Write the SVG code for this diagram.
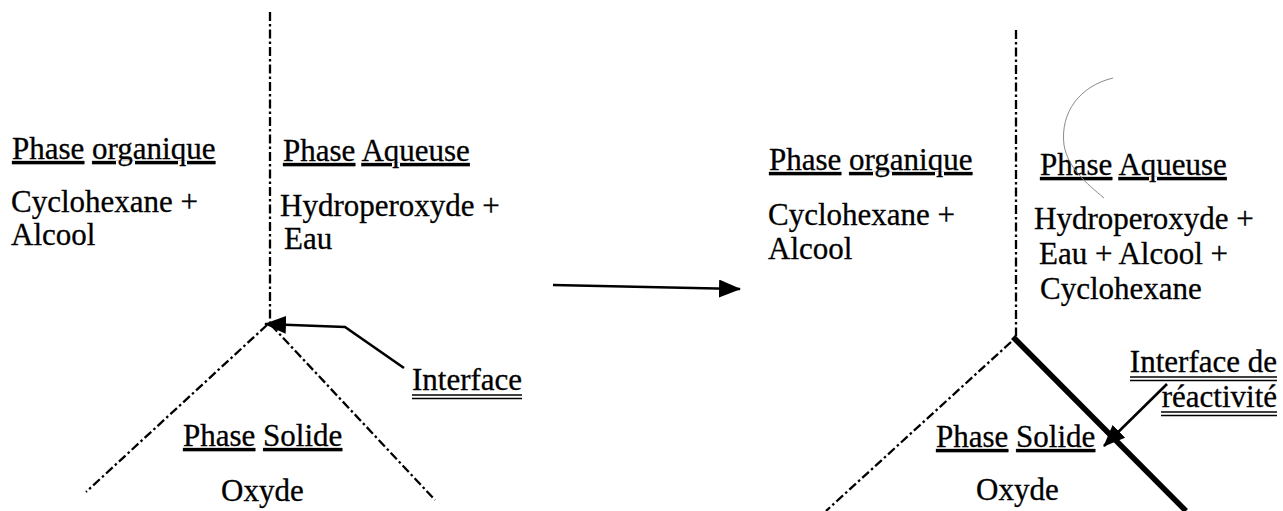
<svg xmlns="http://www.w3.org/2000/svg" width="1283" height="511" viewBox="0 0 1283 511">
  <style>
    text { font-family: "Liberation Serif", "Times New Roman", serif; font-size: 31px; fill: #000; stroke: #000; stroke-width: 0.3; }
    .u { text-decoration: underline; }
    .boundary { fill: none; stroke: #000; stroke-width: 2.3; stroke-dasharray: 9 3 2.5 3; }
    .solid-edge { fill: none; stroke: #000; stroke-width: 5.5; stroke-linecap: butt; }
    .pointer { fill: none; stroke: #000; stroke-width: 2.6; marker-end: url(#head); }
    .rule { stroke: #000; stroke-width: 1.4; }
    .pencil { fill: none; stroke: #8a8a8a; stroke-width: 1; }
  </style>
  <defs>
    <marker id="head" viewBox="0 0 22 18" refX="21" refY="9" markerWidth="22" markerHeight="18" orient="auto" markerUnits="userSpaceOnUse">
      <path d="M0,0 L22,9 L0,18 Z" fill="#000"/>
    </marker>
  </defs>
  <rect width="1283" height="511" fill="#fff"/>

  <!-- Before: phase boundaries meeting at a triple point -->
  <g id="boundaries-before">
    <line class="boundary" x1="270" y1="12" x2="270" y2="323"/>
    <line class="boundary" x1="267" y1="325" x2="86" y2="492"/>
    <line class="boundary" x1="271" y1="325" x2="435" y2="500"/>
  </g>

  <g id="organic-before">
    <text x="12" y="159"><tspan class="u">Phase</tspan> <tspan class="u">organique</tspan></text>
    <text x="11" y="212">Cyclohexane +</text>
    <text x="11" y="245">Alcool</text>
  </g>

  <g id="aqueous-before">
    <text x="283" y="161"><tspan class="u">Phase</tspan> <tspan class="u">Aqueuse</tspan></text>
    <text x="280" y="216">Hydroperoxyde +</text>
    <text x="284" y="249">Eau</text>
  </g>

  <g id="solid-before">
    <text x="183" y="446"><tspan class="u">Phase</tspan> <tspan class="u">Solide</tspan></text>
    <text x="221" y="501">Oxyde</text>
  </g>

  <g id="interface-before">
    <text x="412" y="390">Interface</text>
    <line class="rule" x1="412" y1="395" x2="522" y2="395"/>
    <line class="rule" x1="412" y1="398.5" x2="522" y2="398.5"/>
  </g>

  <!-- After: the aqueous/solid boundary becomes the reactive interface -->
  <g id="boundaries-after">
    <line class="boundary" x1="1016" y1="30" x2="1016" y2="338"/>
    <line class="boundary" x1="1011" y1="342" x2="826" y2="511"/>
    <line class="solid-edge" x1="1013" y1="337" x2="1186" y2="511"/>
  </g>

  <g id="organic-after">
    <text x="769" y="170"><tspan class="u">Phase</tspan> <tspan class="u">organique</tspan></text>
    <text x="768" y="225">Cyclohexane +</text>
    <text x="768" y="259">Alcool</text>
  </g>

  <g id="aqueous-after">
    <text x="1040" y="175"><tspan class="u">Phase</tspan> <tspan class="u">Aqueuse</tspan></text>
    <text x="1034" y="229">Hydroperoxyde +</text>
    <text x="1039" y="264">Eau + Alcool +</text>
    <text x="1040" y="299">Cyclohexane</text>
  </g>

  <g id="solid-after">
    <text x="936" y="447"><tspan class="u">Phase</tspan> <tspan class="u">Solide</tspan></text>
    <text x="976" y="500">Oxyde</text>
  </g>

  <g id="interface-after">
    <text x="1277" y="372" text-anchor="end">Interface de</text>
    <line class="rule" x1="1130" y1="377" x2="1277" y2="377"/>
    <line class="rule" x1="1130" y1="380.5" x2="1277" y2="380.5"/>
    <text x="1277" y="407" text-anchor="end">réactivité</text>
    <line class="rule" x1="1161" y1="412" x2="1277" y2="412"/>
    <line class="rule" x1="1161" y1="415.5" x2="1277" y2="415.5"/>
  </g>

  <!-- stray pencil stroke over the aqueous label -->
  <path class="pencil" d="M1113,78 C1080,86 1060,112 1064,145 C1068,168 1086,183 1104,198"/>

  <g id="connectors">
    <path class="pointer" d="M404,368 L345,327 L265,324"/>
    <path class="pointer" d="M553,285 L740,289"/>
    <path class="pointer" d="M1167,384 L1104,446"/>
  </g>
</svg>
